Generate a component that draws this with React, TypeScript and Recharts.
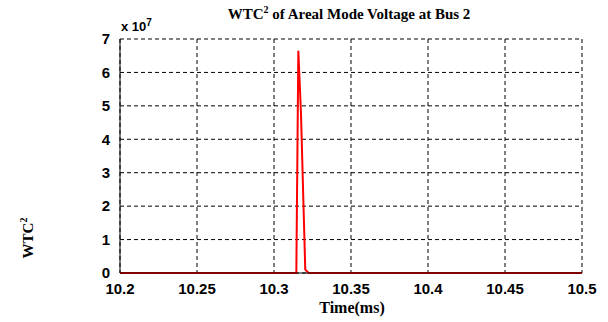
import React from "react";
import { LineChart, Line, XAxis, YAxis, CartesianGrid } from "recharts";

const times = [10.2, 10.25, 10.3, 10.3145, 10.3158, 10.3175, 10.3203, 10.3225, 10.35, 10.4, 10.45, 10.5];
const wtc2 = [0, 0, 0, 0, 6.65e7, 4.8e7, 0.1e7, 0, 0, 0, 0, 0];
const xTicks = [10.2, 10.25, 10.3, 10.35, 10.4, 10.45, 10.5];
const yTicks = [0, 1e7, 2e7, 3e7, 4e7, 5e7, 6e7, 7e7];

const data = times.map((t, i) => ({ t, v: wtc2[i] }));

const tickStyle = { fontFamily: "Liberation Sans, Arial, sans-serif", fontWeight: 700, fontSize: 15, fill: "#000" };
const serif = "Liberation Serif, Times New Roman, serif";

export default function App() {
  return (
    <div style={{ position: "absolute", left: 0, top: 0, width: 608, height: 322, background: "#fff" }}>
      <LineChart width={608} height={322} data={data} margin={{ top: 39, right: 26, bottom: 19, left: 100 }}>
        <CartesianGrid stroke="#000" strokeDasharray="4 3" strokeWidth={1} />
        <XAxis
          dataKey="t"
          type="number"
          domain={[10.2, 10.5]}
          ticks={xTicks}
          tickFormatter={(v) => String(v)}
          tick={tickStyle}
          tickLine={false}
          axisLine={{ stroke: "#000" }}
          height={30}
          tickMargin={4}
          allowDataOverflow
        />
        <XAxis xAxisId="top" orientation="top" dataKey="t" type="number" domain={[10.2, 10.5]} ticks={xTicks} tick={false} tickLine={false} axisLine={{ stroke: "#000" }} height={0} />
        <YAxis
          type="number"
          domain={[0, 7e7]}
          ticks={yTicks}
          tickFormatter={(v) => String(Math.round(v / 1e7))}
          tick={tickStyle}
          tickLine={false}
          axisLine={{ stroke: "#000" }}
          width={20}
          tickMargin={4}
        />
        <YAxis yAxisId="right" orientation="right" type="number" domain={[0, 7e7]} ticks={yTicks} tick={false} tickLine={false} axisLine={{ stroke: "#000" }} width={0} />
        <Line dataKey="v" type="linear" stroke="#ff0000" strokeWidth={2} dot={false} isAnimationActive={false} />
      </LineChart>
      <div style={{ position: "absolute", left: 0, width: 608, paddingLeft: 90, boxSizing: "border-box", top: 4, textAlign: "center", fontFamily: serif, fontWeight: 700, fontSize: 15, whiteSpace: "nowrap" }}>
        WTC<sup style={{ fontSize: 10 }}>2</sup> of Areal Mode Voltage at Bus 2
      </div>
      <div style={{ position: "absolute", left: 121, top: 17, fontFamily: "Liberation Sans, Arial, sans-serif", fontWeight: 700, fontSize: 13, whiteSpace: "nowrap" }}>
        x 10<sup style={{ fontSize: 10 }}>7</sup>
      </div>
      <div style={{ position: "absolute", left: 352, top: 299, transform: "translateX(-50%)", fontFamily: serif, fontWeight: 700, fontSize: 16, whiteSpace: "nowrap" }}>
        Time(ms)
      </div>
      <div style={{ position: "absolute", left: 27, top: 238, transform: "translate(-50%,-50%) rotate(-90deg)", fontFamily: serif, fontWeight: 700, fontSize: 15, whiteSpace: "nowrap" }}>
        WTC<sup style={{ fontSize: 10 }}>2</sup>
      </div>
    </div>
  );
}
